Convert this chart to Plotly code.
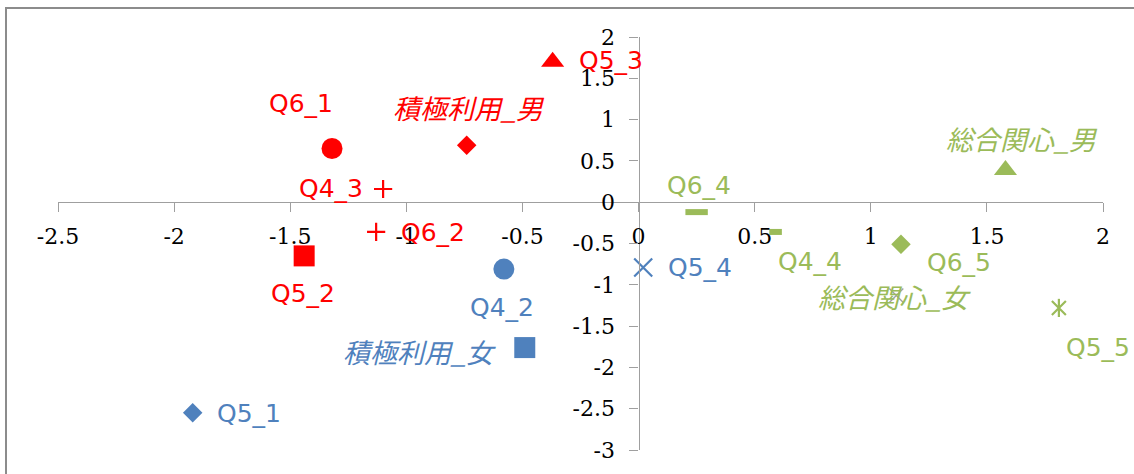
import plotly.graph_objects as go

# ---- data -------------------------------------------------------------
red_names = ["Q6_1", "積極利用_男", "Q5_3", "Q4_3", "Q6_2", "Q5_2"]
red_x = [-1.32, -0.74, -0.37, -1.10, -1.13, -1.44]
red_y = [0.65, 0.69, 1.70, 0.16, -0.36, -0.65]

blue_names = ["Q5_1", "Q4_2", "積極利用_女", "Q5_4"]
blue_x = [-1.92, -0.58, -0.49, 0.02]
blue_y = [-2.55, -0.81, -1.76, -0.79]

green_names = ["Q6_4", "Q4_4", "Q6_5", "総合関心_男", "Q5_5", "総合関心_女"]
green_x = [0.25, 0.59, 1.13, 1.58, 1.81, 1.11]
green_y = [-0.12, -0.36, -0.51, 0.39, -1.28, -1.13]

x_ticks = [-2.5, -2, -1.5, -1, -0.5, 0, 0.5, 1, 1.5, 2]
x_tick_labels = ["-2.5", "-2", "-1.5", "-1", "-0.5", "0", "0.5", "1", "1.5", "2"]
y_ticks = [-3, -2.5, -2, -1.5, -1, -0.5, 0, 0.5, 1, 1.5, 2]
y_tick_labels = ["-3", "-2.5", "-2", "-1.5", "-1", "-0.5", "0", "0.5", "1", "1.5", "2"]

# ---- styling ----------------------------------------------------------
RED, BLUE, GREEN = "#FF0000", "#4F81BD", "#9BBB59"

# symbol, size, stroke width, label dx, label dy (px, up positive), italic
style = {
    "Q6_1":        ("circle", 21, 0, -31, 45, False),
    "積極利用_男":  ("diamond", 15, 0, 2, 38, True),
    "Q5_3":        ("triangle-up", 20, 0, 58, 1, False),
    "Q4_3":        ("cross-thin", 13, 2.2, -52, 0, False),
    "Q6_2":        ("cross-thin", 13, 2.2, 57, -1, False),
    "Q5_2":        ("square", 21, 0, -1, -38, False),
    "Q5_1":        ("diamond", 15, 0, 56, -1, False),
    "Q4_2":        ("circle", 21, 0, -2, -38, False),
    "積極利用_女":  ("square", 21, 0, -105, -4, True),
    "Q5_4":        ("x-thin", 18, 2.2, 57, 0, False),
    "Q6_4":        ("line-ew", 16, 6, 2, 27, False),
    "Q4_4":        ("line-ew", 9, 6, 34, -30, False),
    "Q6_5":        ("diamond", 15, 0, 58, -18, False),
    "総合関心_男":  ("triangle-up", 20, 0, 17, 31, True),
    "Q5_5":        ("x-thin", 14, 2.2, 39, -40, False),
    "総合関心_女":  ("x-thin", 14, 1.4, -2, -1, True),
}

W, H = 1134, 474
ML, MR, MT, MB = 58, 31, 37, 24
X_RANGE = [-2.5, 2]
Y_RANGE = [-3, 2]

fig = go.Figure()
annotations = []


def add_group(names, xs, ys, color):
    symbols = [style[n][0] for n in names]
    sizes = [style[n][1] for n in names]
    widths = [style[n][2] for n in names]
    colors = [color] * len(names)
    for i, n in enumerate(names):
        if n == "総合関心_女":
            colors[i] = "rgba(70,70,70,0.5)"
    fig.add_trace(go.Scatter(
        x=xs, y=ys, mode="markers", text=names, hoverinfo="text",
        marker=dict(symbol=symbols, size=sizes, color=colors, opacity=1,
                    line=dict(color=colors, width=widths)),
        showlegend=False,
    ))
    for n, x, y in zip(names, xs, ys):
        _, _, _, dx, dy, italic = style[n]
        if italic:
            font = dict(family="Noto Sans CJK JP", size=27, color=color,
                        style="italic")
        else:
            font = dict(family="DejaVu Sans", size=25, color=color)
        annotations.append(dict(
            x=x, y=y, xref="x", yref="y", text=n, showarrow=False,
            xanchor="center", yanchor="middle", xshift=dx, yshift=dy,
            font=font,
        ))


add_group(red_names, red_x, red_y, RED)
add_group(blue_names, blue_x, blue_y, BLUE)
add_group(green_names, green_x, green_y, GREEN)

# Q5_5 is a star marker: add the vertical stroke over its diagonal cross
i55 = green_names.index("Q5_5")
fig.add_trace(go.Scatter(
    x=[green_x[i55]], y=[green_y[i55]], mode="markers", hoverinfo="skip",
    marker=dict(symbol="line-ns", size=13, color=GREEN, opacity=1,
                line=dict(color=GREEN, width=2.2)),
    showlegend=False,
))

# axes crossing at the origin
x_cross = (0 - X_RANGE[0]) / (X_RANGE[1] - X_RANGE[0])
y_cross = (0 - Y_RANGE[0]) / (Y_RANGE[1] - Y_RANGE[0])
axis_common = dict(
    showgrid=False, zeroline=False, showline=True, linecolor="#9f9f9f",
    linewidth=1.4, ticks="outside", ticklen=9, tickcolor="#9f9f9f",
    tickwidth=1.4, anchor="free",
    tickfont=dict(family="DejaVu Serif, Liberation Serif, serif", size=22,
                  color="#000000"),
)

# chart border (left and top edges visible inside the canvas)
pw, ph = W - ML - MR, H - MT - MB
fig.add_shape(
    type="rect", xref="paper", yref="paper",
    x0=(6 - ML) / pw, x1=(W + 10 - ML) / pw,
    y0=-(MB + 10) / ph, y1=(H - MB - 8) / ph,
    line=dict(color="#8c8c8c", width=2), fillcolor="rgba(0,0,0,0)",
)

fig.update_layout(
    width=W, height=H,
    margin=dict(l=ML, r=MR, t=MT, b=MB, pad=0),
    paper_bgcolor="white", plot_bgcolor="white",
    xaxis=dict(range=X_RANGE, tickvals=x_ticks, ticktext=x_tick_labels,
               position=y_cross, ticklabelstandoff=5, **axis_common),
    yaxis=dict(range=Y_RANGE, tickvals=y_ticks, ticktext=y_tick_labels,
               position=x_cross, ticklabelstandoff=10, **axis_common),
    annotations=annotations,
)

fig.write_html("out.html")
